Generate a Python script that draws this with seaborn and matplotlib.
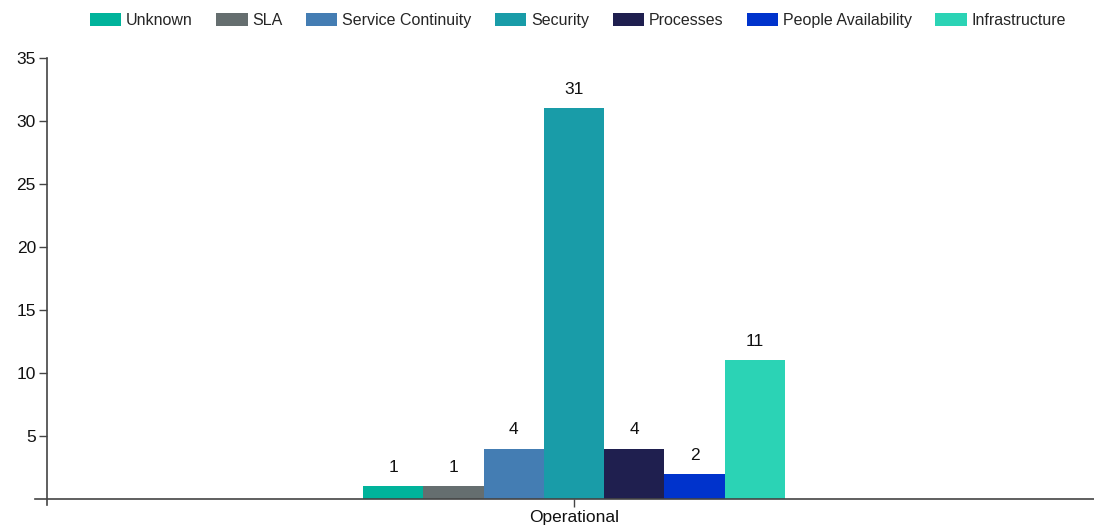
import matplotlib
matplotlib.use("Agg")
import matplotlib.pyplot as plt
import pandas as pd
import seaborn as sns
from matplotlib.patches import Patch

categories = ["Operational"]
types = ["Unknown", "SLA", "Service Continuity", "Security", "Processes",
         "People Availability", "Infrastructure"]
counts = [1, 1, 4, 31, 4, 2, 11]
colors = ["#00b39b", "#656e6f", "#447db3", "#199ca8", "#1f1f4f",
          "#0033cc", "#2bd3b5"]
y_ticks = [5, 10, 15, 20, 25, 30, 35]

df = pd.DataFrame({
    "category": categories * len(types),
    "type": types,
    "count": counts,
})

sns.set_theme(style="white")
plt.rcParams["font.family"] = ["Liberation Sans", "DejaVu Sans"]

fig = plt.figure(figsize=(10.94, 5.27), dpi=100)
W, H = 1094, 527
ax = fig.add_axes([35 / W, (H - 505) / H, (1094 - 35) / W, (505 - 58) / H])

sns.barplot(data=df, x="category", y="count", hue="type", hue_order=types,
            palette=colors, saturation=1, width=0.8, gap=0, legend=False,
            ax=ax, linewidth=0)

for c in ax.containers:
    ax.bar_label(c, padding=8, fontsize=12.5, color="#111111")

ax.set_xlim(-1.0218, 0.9858)
ax.set_ylim(-0.476, 35)
ax.set_yticks(y_ticks)
ax.set_xlabel("")
ax.set_ylabel("")

ax.spines["top"].set_visible(False)
ax.spines["right"].set_visible(False)
ax.spines["bottom"].set_position(("data", 0))
ax.spines["left"].set_position(("data", -0.999))
for s in ("bottom", "left"):
    ax.spines[s].set_color("#444444")
    ax.spines[s].set_linewidth(1.2)

ax.tick_params(axis="both", length=6, width=1, color="#444444",
               labelsize=12.5, labelcolor="#111111", pad=2,
               left=True, bottom=True)

handles = [Patch(facecolor=c, edgecolor="none", label=t)
           for t, c in zip(types, colors)]
fig.legend(handles=handles, loc="center", bbox_to_anchor=(578 / W, 1 - 20.5 / H),
           ncol=len(types), frameon=False, fontsize=11.5,
           handlelength=1.95, handleheight=0.85, handletextpad=0.3,
           columnspacing=1.48)

fig.savefig("out.png", dpi=100)
